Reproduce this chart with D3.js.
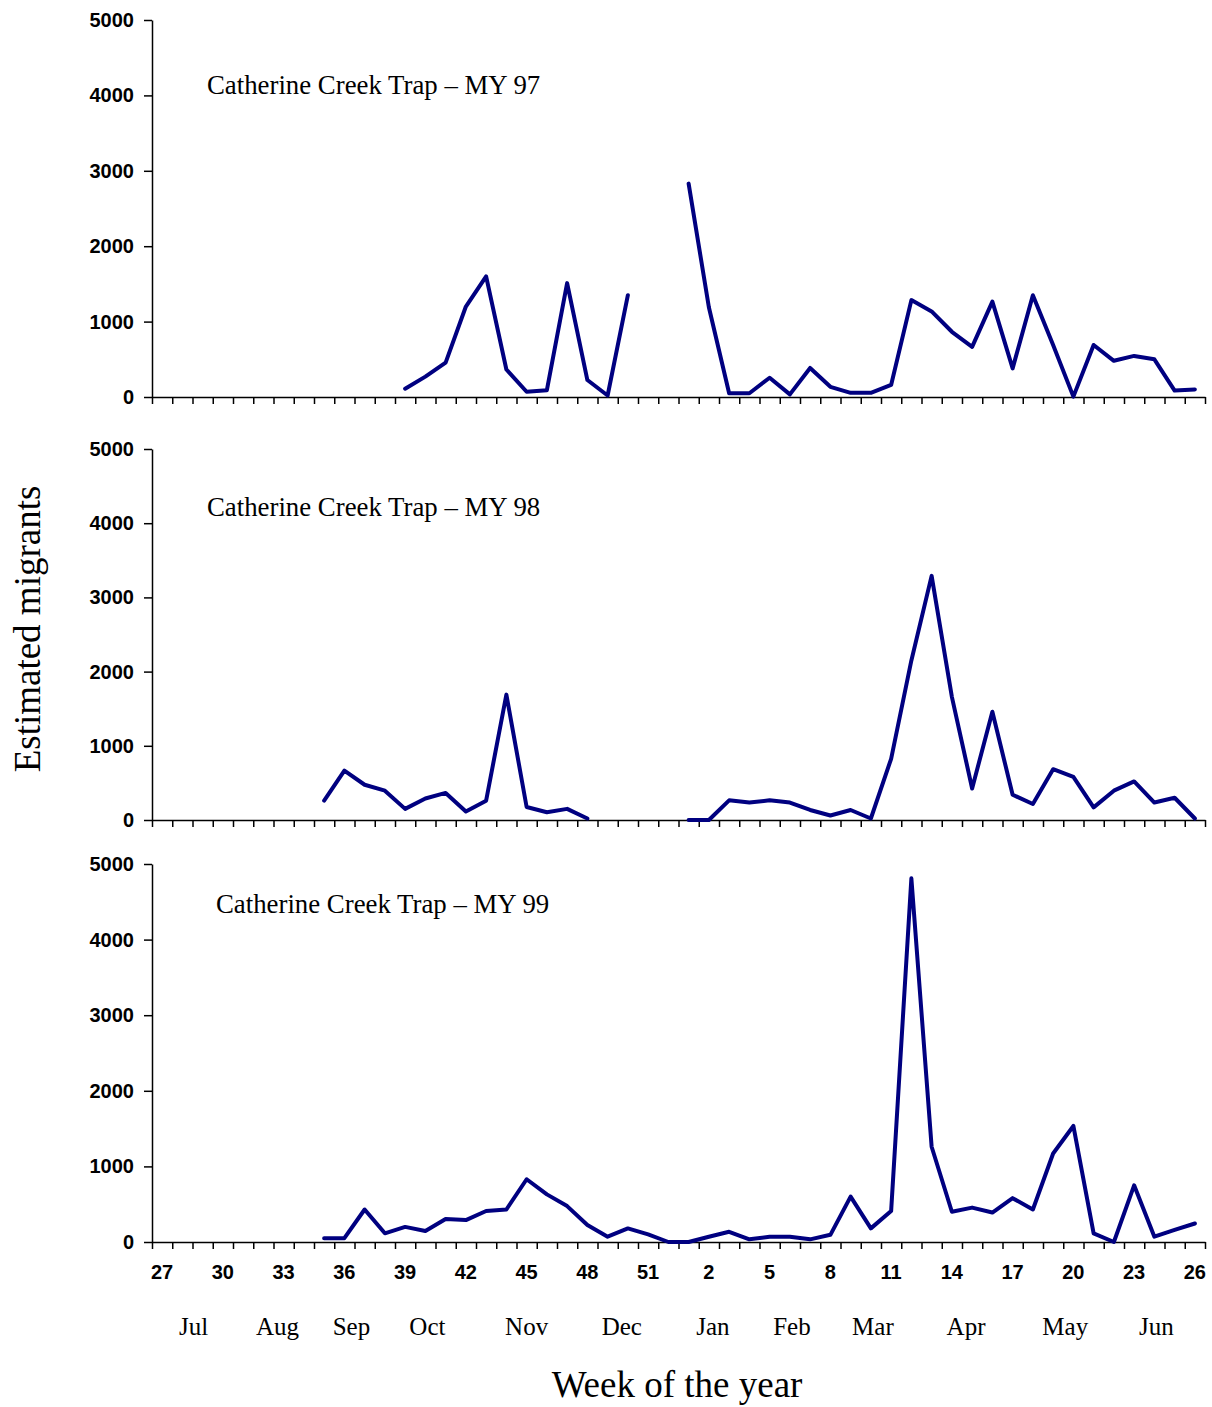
<!DOCTYPE html>
<html>
<head>
<meta charset="utf-8">
<script src="https://cdn.jsdelivr.net/npm/d3@7"></script>
<style>
  body { margin: 0; background: #fff; }
  .tick-num { font-family: "Liberation Sans", Arial, sans-serif; font-weight: bold; font-size: 20px; fill: #000; }
  .serif { font-family: "Liberation Serif", "Times New Roman", serif; fill: #000; }
</style>
</head>
<body>
<div id="chart"></div>
<script>
// weeks of the migration year: 27..52 then 1..26
const weeks = d3.range(27, 53).concat(d3.range(1, 27));
const weekTickLabels = [27, 30, 33, 36, 39, 42, 45, 48, 51, 2, 5, 8, 11, 14, 17, 20, 23, 26];
const yTicks = [0, 1000, 2000, 3000, 4000, 5000];

const monthLabels = ["Jul", "Aug", "Sep", "Oct", "Nov", "Dec", "Jan", "Feb", "Mar", "Apr", "May", "Jun"];
// where each month label sits, in week slots from the start of the axis
const monthAt = [2.05, 6.2, 9.85, 13.6, 18.5, 23.2, 27.7, 31.6, 35.6, 40.2, 45.1, 49.6];

const titles = ["Catherine Creek Trap \u2013 MY 97", "Catherine Creek Trap \u2013 MY 98", "Catherine Creek Trap \u2013 MY 99"];

const N = null;
// MY 97 (weeks 27..52, 1..26)
const my97 = [N, N, N, N, N, N, N, N, N, N, N, N,
  110, 270, 455, 1200, 1600, 365, 70, 90, 1510, 225, 20, 1350, N, N,
  2830, 1190, 50, 50, 255, 35, 385, 135, 55, 55, 160, 1285, 1135, 865, 665, 1265, 380, 1350, 690, 5, 690, 480, 545, 500, 85, 100];
// MY 98
const my98 = [N, N, N, N, N, N, N, N,
  260, 665, 475, 395, 150, 290, 365, 115, 260, 1690, 175, 105, 150, 20, N, N, N, N,
  0, 0, 265, 235, 265, 235, 135, 60, 135, 20, 825, 2150, 3290, 1660, 425, 1460, 340, 215, 685, 580, 170, 395, 520, 235, 300, 20];
// MY 99
const my99 = [N, N, N, N, N, N, N, N,
  50, 50, 430, 115, 200, 145, 305, 290, 410, 430, 830, 630, 475, 225, 70, 180, 100, 0,
  0, 70, 135, 35, 70, 70, 35, 95, 600, 180, 410, 4810, 1260, 400, 455, 390, 580, 430, 1170, 1535, 115, 0, 750, 70, 160, 245];

const series = [my97, my98, my99];

const width = 1212, height = 1407;
const left = 152, right = 1205;
const panels = [
  {top: 20, bottom: 397, titleX: 207, titleY: 94},
  {top: 449, bottom: 820, titleX: 207, titleY: 516},
  {top: 864, bottom: 1242, titleX: 216, titleY: 913}
];

const svg = d3.select("#chart").append("svg")
  .attr("width", width)
  .attr("height", height);

const x = d3.scaleBand()
  .domain(weeks)
  .range([left, right])
  .paddingInner(0).paddingOuter(0);

const xEdge = d3.scaleLinear().domain([0, weeks.length]).range([left, right]);

panels.forEach((p, i) => {
  const y = d3.scaleLinear().domain([0, 5000]).range([p.bottom, p.top]);
  const g = svg.append("g");

  // y axis
  const yAxis = d3.axisLeft(y).tickValues(yTicks).tickFormat(d3.format("d"))
    .tickSize(8).tickSizeOuter(0).tickPadding(10);
  g.append("g")
    .attr("transform", `translate(${left},0)`)
    .call(yAxis)
    .call(a => a.selectAll("text").attr("class", "tick-num").attr("font-size", null).attr("font-family", null))
    .call(a => a.selectAll("line,path").attr("stroke", "#000").attr("stroke-width", 1.5));

  // x axis: tick marks between weeks
  const xAxis = d3.axisBottom(xEdge).tickValues(d3.range(weeks.length + 1)).tickSize(7).tickSizeOuter(0).tickFormat("");
  g.append("g")
    .attr("transform", `translate(0,${p.bottom})`)
    .call(xAxis)
    .call(a => a.selectAll("line,path").attr("stroke", "#000").attr("stroke-width", 1.5));

  // panel title
  g.append("text")
    .attr("class", "serif")
    .attr("x", p.titleX)
    .attr("y", p.titleY)
    .attr("font-size", 26.8)
    .text(titles[i]);

  // data line
  const line = d3.line()
    .defined(d => d != null)
    .x((d, j) => x(weeks[j]) + x.bandwidth() / 2)
    .y(d => y(d));

  g.append("path")
    .datum(series[i])
    .attr("fill", "none")
    .attr("stroke", "#000080")
    .attr("stroke-width", 4)
    .attr("stroke-linejoin", "round")
    .attr("stroke-linecap", "round")
    .attr("d", line);
});

// week labels under the bottom panel
const last = panels[panels.length - 1];
svg.append("g").selectAll("text")
  .data(weekTickLabels)
  .join("text")
  .attr("class", "tick-num")
  .attr("x", d => x(d) + x.bandwidth() / 2)
  .attr("y", last.bottom + 37)
  .attr("text-anchor", "middle")
  .text(d => d);

// month labels
svg.append("g").selectAll("text")
  .data(monthLabels)
  .join("text")
  .attr("class", "serif")
  .attr("font-size", 25)
  .attr("x", (d, i) => xEdge(monthAt[i]))
  .attr("y", last.bottom + 93)
  .attr("text-anchor", "middle")
  .text(d => d);

// axis titles
svg.append("text")
  .attr("class", "serif")
  .attr("font-size", 37)
  .attr("x", 677)
  .attr("y", 1397)
  .attr("text-anchor", "middle")
  .text("Week of the year");

svg.append("text")
  .attr("class", "serif")
  .attr("font-size", 37)
  .attr("transform", "translate(40,629) rotate(-90)")
  .attr("text-anchor", "middle")
  .text("Estimated migrants");
</script>
</body>
</html>
